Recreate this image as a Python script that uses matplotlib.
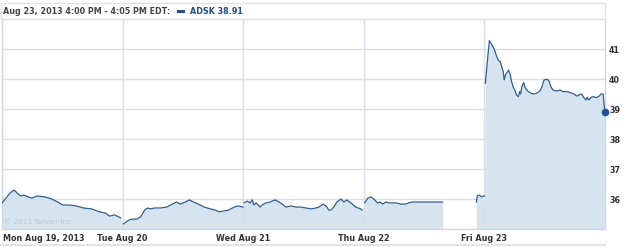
import numpy as np
import matplotlib
matplotlib.use("Agg")
import matplotlib.pyplot as plt
import matplotlib.transforms as mtrans
from matplotlib.patches import Rectangle
from matplotlib.lines import Line2D

# ---- data: minutes since 9:30 open, price ----
mon_min = [0, 13, 26, 39, 52, 61, 71, 84, 97, 113, 139, 161, 180, 197, 219, 239, 264, 290, 316, 335, 348, 364, 384]
mon_px = [35.87, 36.03, 36.20, 36.30, 36.17, 36.10, 36.13, 36.07, 36.03, 36.10, 36.07, 36.00, 35.90, 35.80,
          35.80, 35.77, 35.70, 35.67, 35.57, 35.53, 35.43, 35.47, 35.37]

tue_min = [3, 16, 29, 45, 58, 64, 71, 81, 90, 103, 122, 142, 161, 174, 187, 203, 216, 229, 245, 264, 284,
           300, 313, 326, 342, 361, 374, 390]
tue_px = [35.17, 35.27, 35.33, 35.33, 35.40, 35.50, 35.63, 35.70, 35.67, 35.70, 35.70, 35.73, 35.83, 35.90,
          35.83, 35.90, 35.97, 35.90, 35.83, 35.73, 35.67, 35.63, 35.57, 35.60, 35.63, 35.73, 35.77, 35.73]

wed_min = [3, 13, 23, 29, 35, 42, 55, 61, 74, 87, 103, 116, 126, 139, 155, 171, 187, 203, 219, 235, 245,
           258, 268, 277, 284, 293, 303, 316, 326, 335, 348, 364, 380, 384]
wed_px = [35.87, 35.93, 35.87, 35.97, 35.80, 35.87, 35.73, 35.80, 35.87, 35.90, 35.97, 35.90, 35.83, 35.73,
          35.77, 35.73, 35.73, 35.70, 35.67, 35.70, 35.73, 35.83, 35.77, 35.63, 35.63, 35.73, 35.90, 36.00,
          35.90, 35.97, 35.87, 35.73, 35.67, 35.63]

thu_min = [3, 13, 23, 32, 45, 52, 61, 71, 81, 93, 103, 119, 135, 145, 158, 184, 226, 255,
           None, 364, 367, 374, 380, 387, 390]
thu_px = [35.87, 36.03, 36.07, 36.00, 35.87, 35.90, 35.83, 35.90, 35.87, 35.87, 35.87, 35.83, 35.83, 35.87,
          35.90, 35.90, 35.90, 35.90, None, 35.90, 36.10, 36.13, 36.07, 36.10, 36.10]

fri_min = [3, 16, 25, 32, 40, 46, 51, 56, 61, 64, 68, 72, 75, 78, 83, 88, 93, 99, 104, 110, 114, 117, 121,
           127, 132, 140, 151, 161, 172, 180, 186, 193, 204, 210, 215, 222, 233, 244, 255, 268, 279, 290,
           298, 306, 314, 321, 328, 332, 338, 345, 352, 363, 371, 377, 384, 387, 390]
fri_px = [39.86, 41.28, 41.13, 40.99, 40.74, 40.61, 40.58, 40.41, 40.24, 39.97, 40.13, 40.21, 40.24, 40.30,
          40.17, 39.91, 39.74, 39.61, 39.47, 39.41, 39.58, 39.50, 39.74, 39.88, 39.71, 39.60, 39.52, 39.50,
          39.54, 39.61, 39.74, 39.97, 39.99, 39.91, 39.74, 39.63, 39.60, 39.63, 39.58, 39.58, 39.54, 39.50,
          39.43, 39.47, 39.50, 39.39, 39.30, 39.39, 39.30, 39.39, 39.41, 39.38, 39.43, 39.50, 39.50, 39.13, 38.91]

day_labels = ["Mon Aug 19, 2013", "Tue Aug 20", "Wed Aug 21", "Thu Aug 22", "Fri Aug 23"]
y_ticks = [36, 37, 38, 39, 40, 41]
header_text = "Aug 23, 2013 4:00 PM - 4:05 PM EDT:"
legend_text = "ADSK 38.91"
copyright_text = "\u00a9 2013 Yahoo! Inc."
session_minutes = 390

# ---- build series ----
days = [(mon_min, mon_px), (tue_min, tue_px), (wed_min, wed_px), (thu_min, thu_px), (fri_min, fri_px)]
day_x, day_y = [], []
for d, (mins, pxs) in enumerate(days):
    dx = [np.nan if m is None else d + m / session_minutes for m in mins]
    dy = [np.nan if p is None else p for p in pxs]
    day_x.append(np.array(dx, dtype=float))
    day_y.append(np.array(dy, dtype=float))
xs = np.concatenate(day_x)
ys = np.concatenate(day_y)

W, H = 625, 247
fig = plt.figure(figsize=(W / 100, H / 100), dpi=100)
fig.patch.set_facecolor("white")

ax = fig.add_axes([2 / W, 18 / H, 603 / W, 210 / H])
ax.set_xlim(0, 5)
ax.set_ylim(35, 42)

grid_c = "#d9e0e8"
line_c = "#2e5f95"
fill_c = "#d6e4f0"

# fill (continuous across days, split on NaN gaps)
valid = ~np.isnan(ys)
seg_start = None
for i in range(len(ys) + 1):
    ok = i < len(ys) and valid[i]
    if ok and seg_start is None:
        seg_start = i
    if not ok and seg_start is not None:
        ax.fill_between(xs[seg_start:i], ys[seg_start:i], 35, color=fill_c, lw=0, zorder=1)
        seg_start = None
# line drawn per day
for dx, dy in zip(day_x, day_y):
    ax.plot(dx, dy, color=line_c, lw=0.9, zorder=3)
ax.plot([xs[-1]], [ys[-1]], "o", color="#1f5292", ms=4.5, zorder=4, clip_on=False)

ax.set_yticks(y_ticks + [42])
ax.set_yticklabels([str(v) for v in y_ticks] + [""])
ax.set_xticks(range(5))
ax.set_xticklabels(day_labels)
ax.grid(True, color=grid_c, lw=1.0, zorder=2)
for gl in ax.get_xgridlines() + ax.get_ygridlines():
    gl.set_zorder(2)
ax.yaxis.tick_right()
ax.tick_params(axis="both", length=0)
ax.tick_params(axis="y", pad=3, labelsize=5.8, labelcolor="#333333")
ax.tick_params(axis="x", pad=3.5, labelsize=5.8, labelcolor="#333333")
for lab in ax.get_yticklabels() + ax.get_xticklabels():
    lab.set_fontweight("bold")
first = ax.get_xticklabels()[0]
first.set_ha("left")
first.set_transform(first.get_transform() + mtrans.ScaledTranslation(1 / 100, 0, fig.dpi_scale_trans))
for s in ax.spines.values():
    s.set_color("#cfd8e1")
    s.set_linewidth(1.0)
ax.spines["top"].set_visible(False)

ax.text(0.015, 35.25, copyright_text, fontsize=5.2, color="#b9c6d3", va="center", ha="left", zorder=5)

# header box
fig.patches.append(Rectangle((0.5 / W, (H - 19) / H), 604.5 / W, 16 / H, transform=fig.transFigure,
                             fill=False, edgecolor="#dde3e9", lw=1.0))
fig.text(3 / W, (H - 11.5) / H, header_text, fontsize=5.8, fontweight="bold", color="#444444",
         va="center", ha="left")
fig.patches.append(Rectangle((177 / W, (H - 13) / H), 8 / W, 3.5 / H, transform=fig.transFigure,
                             color="#1f4e8a", lw=0))
fig.text(190 / W, (H - 11.5) / H, legend_text, fontsize=5.8, fontweight="bold", color="#1f4e8a",
         va="center", ha="left")

# bottom rule
fig.lines.append(Line2D([0, 605 / W], [(H - 244.5) / H] * 2, transform=fig.transFigure,
                        color="#e3e3e3", lw=1.5))

fig.savefig("out.png", dpi=100, facecolor="white")
